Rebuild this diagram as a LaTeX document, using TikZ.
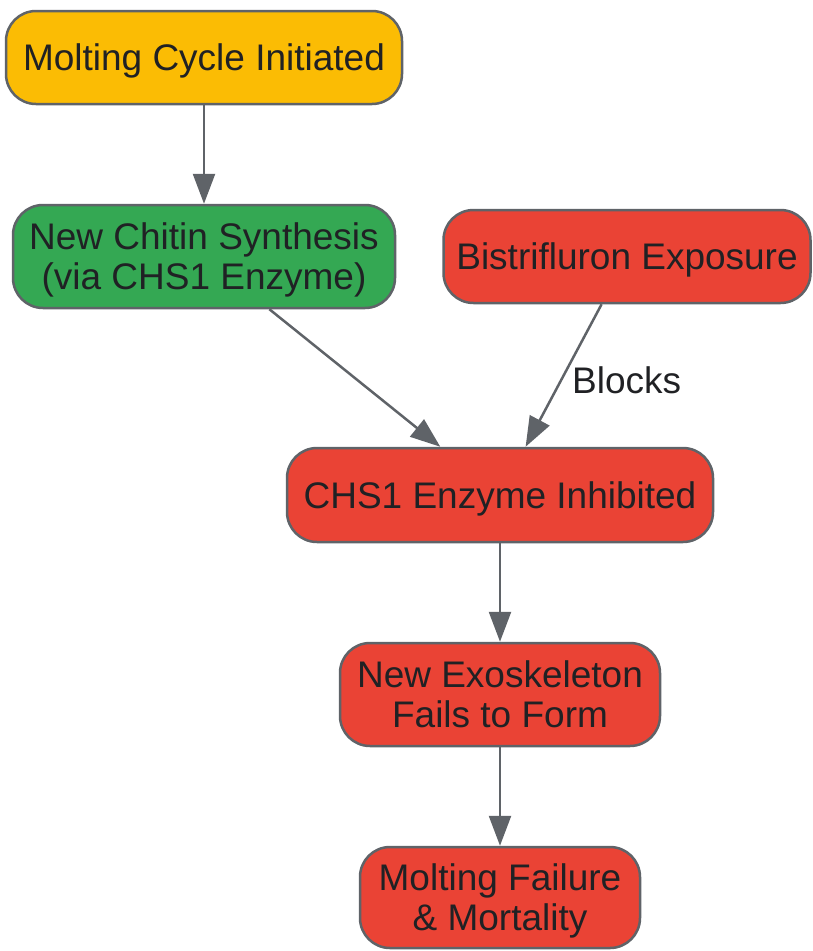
\documentclass[tikz,border=0pt]{standalone}
\usepackage{fontspec}
\setmainfont{Liberation Sans}
\usetikzlibrary{arrows.meta}
\definecolor{cyellow}{HTML}{FBBC04}
\definecolor{cgreen}{HTML}{34A853}
\definecolor{cred}{HTML}{EA4335}
\definecolor{cgray}{HTML}{5F6368}
\definecolor{ctext}{HTML}{202124}
\tikzset{
  box/.style={draw=cgray, line width=2.5pt, rounded corners=30pt, align=center,
    text=ctext, font=\fontsize{37}{40}\selectfont, inner sep=0pt, text height=26.6pt, text depth=0pt},
  twoline/.style={text height=66.6pt, text depth=0pt},
  conn/.style={draw=cgray, line width=2.5pt, -{Triangle[length=30pt,width=22pt]}},
  lbl/.style={text=ctext, font=\fontsize{37}{40}\selectfont, inner sep=0pt}
}
\begin{document}
\begin{tikzpicture}[x=1pt,y=-1pt]
\useasboundingbox (0,0) rectangle (812,951);
\node[box, fill=cyellow, minimum width=396pt, minimum height=93pt] (a) at (204,57.5) {Molting Cycle Initiated};
\node[box, twoline, fill=cgreen, minimum width=382pt, minimum height=103pt] (b) at (204,256.5) {New Chitin Synthesis\\(via CHS1 Enzyme)};
\node[box, fill=cred, minimum width=367pt, minimum height=93pt] (c) at (627,256.5) {Bistrifluron Exposure};
\node[box, fill=cred, minimum width=426pt, minimum height=94pt] (d) at (500,495) {CHS1 Enzyme Inhibited};
\node[box, twoline, fill=cred, minimum width=320pt, minimum height=103pt] (e) at (500,694.5) {New Exoskeleton\\Fails to Form};
\node[box, twoline, fill=cred, minimum width=280pt, minimum height=101pt] (f) at (500,897.5) {Molting Failure\\\& Mortality};
\draw[conn] (a) -- (b);
\draw[conn] (b) -- (d);
\draw[conn] (c) -- (d);
\draw[conn] (d) -- (e);
\draw[conn] (e) -- (f);
\node[lbl, anchor=west] (l) at (572,380) {Blocks};
\end{tikzpicture}
\end{document}
